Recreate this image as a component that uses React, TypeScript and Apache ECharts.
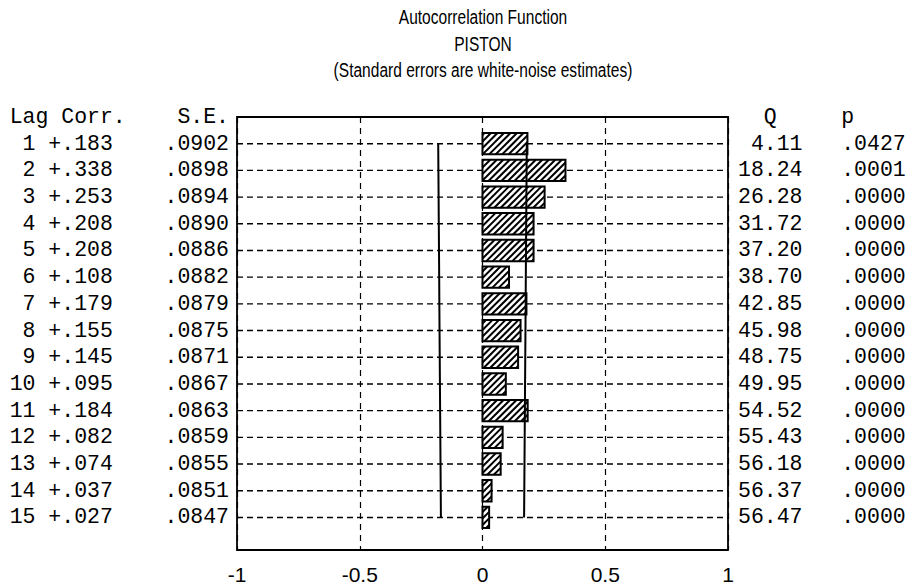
import React, { useEffect, useRef } from "react";
import * as echarts from "echarts";

// Autocorrelation of the PISTON series, lags 1..15
const lags = [1, 2, 3, 4, 5, 6, 7, 8, 9, 10, 11, 12, 13, 14, 15];
const corr = [0.183, 0.338, 0.253, 0.208, 0.208, 0.108, 0.179, 0.155, 0.145, 0.095, 0.184, 0.082, 0.074, 0.037, 0.027];
const stdErr = [0.0902, 0.0898, 0.0894, 0.089, 0.0886, 0.0882, 0.0879, 0.0875, 0.0871, 0.0867, 0.0863, 0.0859, 0.0855, 0.0851, 0.0847];
const qStat = [4.11, 18.24, 26.28, 31.72, 37.2, 38.7, 42.85, 45.98, 48.75, 49.95, 54.52, 55.43, 56.18, 56.37, 56.47];
const pValue = [0.0427, 0.0001, 0.0, 0.0, 0.0, 0.0, 0.0, 0.0, 0.0, 0.0, 0.0, 0.0, 0.0, 0.0, 0.0];
const xTicks = [-1, -0.5, 0, 0.5, 1];
const titleLines = ["Autocorrelation Function", "PISTON", "(Standard errors are white-noise estimates)"];
const leftHeader = "Lag Corr.    S.E.";
const rightHeader = "  Q     p";

const MONO = "'Liberation Mono', 'DejaVu Sans Mono', monospace";
const SANS = "'Liberation Sans', Arial, sans-serif";

const fmtCorr = (v: number) => (v < 0 ? "-" : "+") + Math.abs(v).toFixed(3).replace(/^0/, "");
const fmtFrac = (v: number) => v.toFixed(4).replace(/^0/, "");

const leftRow = (i: number) =>
  String(lags[i]).padStart(2, " ") + " " + fmtCorr(corr[i]) + "    " + fmtFrac(stdErr[i]);
const rightRow = (i: number) => qStat[i].toFixed(2).padStart(5, " ") + "   " + fmtFrac(pValue[i]);

// Bar with "///" hatching plus the dashed guide line of its row
function renderRow(params: any, api: any) {
  const v = api.value(0);
  const lag = api.value(1);
  const rowL = api.coord([-1, lag]);
  const rowR = api.coord([1, lag]);
  const base = api.coord([0, lag]);
  const tip = api.coord([v, lag]);
  const h = Math.abs(api.size([0, 0.8])[1]);
  const x0 = Math.min(base[0], tip[0]);
  const x1 = Math.max(base[0], tip[0]);
  const y0 = base[1] - h / 2;
  const y1 = base[1] + h / 2;

  const children: any[] = [
    {
      type: "line",
      shape: { x1: rowL[0], y1: rowL[1], x2: rowR[0], y2: rowR[1] },
      style: { stroke: "#000", lineWidth: 1.4, lineDash: [6, 4] },
    },
    {
      type: "rect",
      shape: { x: x0, y: y0, width: x1 - x0, height: y1 - y0 },
      style: { fill: "#fff", stroke: null },
    },
  ];

  const step = 6.5;
  const cStart = Math.floor((x0 + y0) / step) * step;
  for (let c = cStart; c <= x1 + y1; c += step) {
    const lo = Math.max(x0, c - y1);
    const hi = Math.min(x1, c - y0);
    if (hi - lo > 0.5) {
      children.push({
        type: "line",
        shape: { x1: lo, y1: c - lo, x2: hi, y2: c - hi },
        style: { stroke: "#000", lineWidth: 2 },
      });
    }
  }

  children.push({
    type: "rect",
    shape: { x: x0, y: y0, width: x1 - x0, height: y1 - y0 },
    style: { fill: null, stroke: "#000", lineWidth: 2 },
  });

  // plot frame, drawn once from the coordinate system's own rectangle
  if (params.dataIndex === 0) {
    const cs = params.coordSys;
    children.push({
      type: "rect",
      shape: { x: cs.x, y: cs.y, width: cs.width, height: cs.height },
      style: { fill: null, stroke: "#000", lineWidth: 1.8 },
    });
  }

  return { type: "group", children };
}

export default function App() {
  const ref = useRef<HTMLDivElement>(null);

  useEffect(() => {
    if (!ref.current) return;
    const chart = echarts.init(ref.current, undefined, { renderer: "svg" });

    const lowerLimit = lags.map((l, i) => [-2 * stdErr[i], l]);
    const upperLimit = lags.map((l, i) => [2 * stdErr[i], l]);

    const yLabel = (fn: (i: number) => string, header: string) => (val: number) => {
      if (val === 0) return header;
      const i = lags.indexOf(val);
      return i >= 0 ? fn(i) : "";
    };

    chart.setOption({
      animation: false,
      backgroundColor: "#fff",
      graphic: titleLines.map((t, k) => ({
        type: "text",
        x: 483,
        y: 17 + k * 26.5,
        scaleX: 0.74,
        style: {
          text: t,
          fontSize: 21,
          fontFamily: SANS,
          fill: "#000",
          align: "center",
          verticalAlign: "middle",
          textAlign: "center",
          textVerticalAlign: "middle",
        },
      })),
      grid: {
        left: 237,
        right: 190,
        top: 117,
        bottom: 36,
      },
      xAxis: {
        type: "value",
        min: xTicks[0],
        max: xTicks[xTicks.length - 1],
        interval: 0.5,
        axisLine: { show: false },
        axisTick: { show: false },
        axisLabel: {
          margin: 14,
          fontSize: 21,
          fontFamily: SANS,
          color: "#000",
          formatter: (v: number) => String(v),
        },
        splitLine: { show: true, lineStyle: { color: "#000", width: 1.2, type: [6, 5] } },
      },
      yAxis: [
        {
          type: "value",
          min: 0,
          max: 16.22,
          interval: 1,
          inverse: true,
          position: "left",
          axisLine: { show: false },
          axisTick: { show: false },
          splitLine: { show: false },
          axisLabel: {
            margin: 8,
            fontSize: 21.5,
            fontFamily: MONO,
            color: "#000",
            showMaxLabel: false,
            formatter: yLabel(leftRow, leftHeader),
          },
        },
        {
          type: "value",
          min: 0,
          max: 16.22,
          interval: 1,
          inverse: true,
          position: "right",
          axisLine: { show: false },
          axisTick: { show: false },
          splitLine: { show: false },
          axisLabel: {
            margin: 10,
            fontSize: 21.5,
            fontFamily: MONO,
            color: "#000",
            showMaxLabel: false,
            formatter: yLabel(rightRow, rightHeader),
          },
        },
      ],
      series: [
        {
          type: "custom",
          yAxisIndex: 0,
          renderItem: renderRow,
          encode: { x: 0, y: 1 },
          clip: false,
          data: lags.map((l, i) => [corr[i], l]),
          z: 2,
        },
        {
          type: "line",
          yAxisIndex: 0,
          data: lowerLimit,
          symbol: "none",
          lineStyle: { color: "#000", width: 2 },
          z: 3,
        },
        {
          type: "line",
          yAxisIndex: 0,
          data: upperLimit,
          symbol: "none",
          lineStyle: { color: "#000", width: 2 },
          z: 3,
        },
      ],
    });

    return () => chart.dispose();
  }, []);

  return (
    <div
      ref={ref}
      style={{ position: "absolute", left: 0, top: 0, width: 918, height: 586 }}
    />
  );
}
